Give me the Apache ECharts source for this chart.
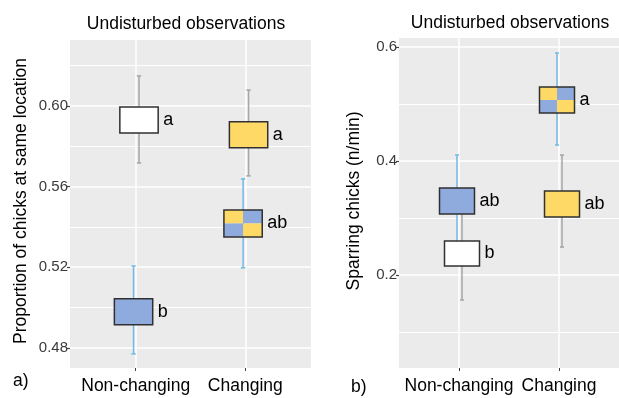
<!DOCTYPE html>
<html>
<head>
<meta charset="utf-8">
<script src="https://cdn.jsdelivr.net/npm/echarts@6/dist/echarts.min.js"></script>
<style>html,body{margin:0;padding:0;background:#fff}#c{width:619px;height:398px}</style>
</head>
<body>
<div id="c"></div>
<script>
// ---- data ----
const categories = ['Non-changing', 'Changing'];
const panelTitle = 'Undisturbed observations';

// Panel a) proportion of chicks at same location
const aCategory  = ['Non-changing', 'Non-changing', 'Changing', 'Changing'];
const aFill      = ['white', 'blue', 'yellow', 'mixed'];
const aBoxLow    = [0.5866, 0.4914, 0.5792, 0.5350];
const aBoxHigh   = [0.5995, 0.5043, 0.5921, 0.5484];
const aWhiskLow  = [0.5717, 0.4770, 0.5653, 0.5197];
const aWhiskHigh = [0.6149, 0.5206, 0.6079, 0.5638];
const aLetters   = ['a', 'b', 'a', 'ab'];
const aTicks     = [0.48, 0.52, 0.56, 0.60];
const aMinor     = [0.50, 0.54, 0.58, 0.62];

// Panel b) sparring chicks (n/min)
const bCategory  = ['Non-changing', 'Non-changing', 'Changing', 'Changing'];
const bFill      = ['white', 'blue', 'yellow', 'mixed'];
const bBoxLow    = [0.2158, 0.3070, 0.3018, 0.4842];
const bBoxHigh   = [0.2596, 0.3526, 0.3474, 0.5298];
const bWhiskLow  = [0.1560, 0.2400, 0.2490, 0.4280];
const bWhiskHigh = [0.3200, 0.4105, 0.4105, 0.5895];
const bLetters   = ['b', 'ab', 'ab', 'a'];
const bTicks     = [0.2, 0.4, 0.6];
const bMinor     = [0.1, 0.3, 0.5];

// ---- styles ----
const FILL = { white: '#FFFFFF', blue: '#8FAADC', yellow: '#FFD966' };
const WHISK = { white: '#A6A6A6', yellow: '#A6A6A6', blue: '#72B9E6', mixed: '#72B9E6' };
const DODGE = { white: 0.03, yellow: 0.03, blue: -0.02, mixed: -0.02 };
const BOXW = 0.35, CAPW = 0.04;
const FONT = '"Liberation Sans", Arial, sans-serif';

function buildData(cat, fill, bl, bh, wl, wh, letters) {
  return cat.map((c, i) => ({
    value: [categories.indexOf(c) + 1, bl[i], bh[i], wl[i], wh[i]],
    fill: fill[i], letter: letters[i]
  }));
}
const aData = buildData(aCategory, aFill, aBoxLow, aBoxHigh, aWhiskLow, aWhiskHigh, aLetters);
const bData = buildData(bCategory, bFill, bBoxLow, bBoxHigh, bWhiskLow, bWhiskHigh, bLetters);

function whiskerRender(data) {
  return function (params, api) {
    const d = data[params.dataIndex];
    const x = api.value(0) + DODGE[d.fill];
    const top = api.coord([x, api.value(4)]);
    const bot = api.coord([x, api.value(3)]);
    const capL = api.coord([x - CAPW / 2, 0])[0];
    const capR = api.coord([x + CAPW / 2, 0])[0];
    const st = { stroke: WHISK[d.fill], lineWidth: 1.5 };
    return { type: 'group', children: [
      { type: 'line', shape: { x1: top[0], y1: top[1], x2: bot[0], y2: bot[1] }, style: st },
      { type: 'line', shape: { x1: capL, y1: top[1], x2: capR, y2: top[1] }, style: st },
      { type: 'line', shape: { x1: capL, y1: bot[1], x2: capR, y2: bot[1] }, style: st }
    ]};
  };
}
function boxRender(data) {
  return function (params, api) {
    const d = data[params.dataIndex];
    const x = api.value(0) + DODGE[d.fill];
    const p1 = api.coord([x - BOXW / 2, api.value(2)]);
    const p2 = api.coord([x + BOXW / 2, api.value(1)]);
    const w = p2[0] - p1[0], h = p2[1] - p1[1];
    const children = [];
    if (d.fill === 'mixed') {
      const hw = w / 2, hh = h / 2;
      children.push({ type: 'rect', shape: { x: p1[0], y: p1[1], width: hw, height: hh }, style: { fill: FILL.yellow } });
      children.push({ type: 'rect', shape: { x: p1[0] + hw, y: p1[1], width: hw, height: hh }, style: { fill: FILL.blue } });
      children.push({ type: 'rect', shape: { x: p1[0], y: p1[1] + hh, width: hw, height: hh }, style: { fill: FILL.blue } });
      children.push({ type: 'rect', shape: { x: p1[0] + hw, y: p1[1] + hh, width: hw, height: hh }, style: { fill: FILL.yellow } });
      children.push({ type: 'rect', shape: { x: p1[0], y: p1[1], width: w, height: h }, style: { fill: null, stroke: '#303030', lineWidth: 1.5 } });
    } else {
      children.push({ type: 'rect', shape: { x: p1[0], y: p1[1], width: w, height: h }, style: { fill: FILL[d.fill], stroke: '#303030', lineWidth: 1.5 } });
    }
    children.push({ type: 'text', x: p2[0] + 5, y: (p1[1] + p2[1]) / 2,
      style: { text: d.letter, fill: '#000', font: '18px ' + FONT, verticalAlign: 'middle', align: 'left' } });
    return { type: 'group', children };
  };
}

function xAxisCfg(gi) {
  return {
    type: 'value', gridIndex: gi, min: 0.4, max: 2.6,
    axisLine: { show: false },
    axisTick: { show: true, customValues: [1, 2], length: 3, lineStyle: { color: '#444', width: 1 } },
    axisLabel: { customValues: [1, 2], formatter: v => categories[Math.round(v) - 1], color: '#000',
      fontSize: 17.5, fontFamily: FONT, margin: 9 },
    splitLine: { show: true, lineStyle: { color: '#FFFFFF', width: 1.5 } }
  };
}
function yAxisCfg(gi, min, max, ticks, dec) {
  return {
    type: 'value', gridIndex: gi, min: min, max: max,
    axisLine: { show: false },
    axisTick: { show: true, customValues: ticks, length: 3, lineStyle: { color: '#444', width: 1.2 } },
    axisLabel: { customValues: ticks, formatter: v => v.toFixed(dec), color: '#3A3A3A',
      fontSize: 15, fontFamily: FONT, margin: 2 },
    splitLine: { show: true, lineStyle: { color: '#FFFFFF', width: 1.5 } }
  };
}
function minorAxisCfg(gi, min, max, minor) {
  return {
    type: 'value', gridIndex: gi, min: min, max: max, position: 'left',
    axisLine: { show: false }, axisLabel: { show: false },
    axisTick: { show: false, customValues: minor },
    splitLine: { show: true, lineStyle: { color: '#FFFFFF', width: 1.2 } }
  };
}

const chart = echarts.init(document.getElementById('c'), null, { renderer: 'canvas' });
chart.setOption({
  animation: false,
  backgroundColor: '#FFFFFF',
  title: [
    { text: panelTitle, left: 181, top: 10, textAlign: 'center',
      textStyle: { fontSize: 17.5, fontWeight: 'normal', color: '#000', fontFamily: FONT } },
    { text: panelTitle, left: 505, top: 9, textAlign: 'center',
      textStyle: { fontSize: 17.5, fontWeight: 'normal', color: '#000', fontFamily: FONT } }
  ],
  grid: [
    { left: 70, top: 40, width: 241, height: 328, show: true, backgroundColor: '#EBEBEB', borderWidth: 0 },
    { left: 399, top: 38, width: 231, height: 330, show: true, backgroundColor: '#EBEBEB', borderWidth: 0 }
  ],
  xAxis: [xAxisCfg(0), xAxisCfg(1)],
  yAxis: [
    yAxisCfg(0, 0.4700, 0.6327, aTicks, 2),
    yAxisCfg(1, 0.0368, 0.6158, bTicks, 1),
    minorAxisCfg(0, 0.4700, 0.6327, aMinor),
    minorAxisCfg(1, 0.0368, 0.6158, bMinor)
  ],
  graphic: [
    { type: 'text', x: 21, y: 201, rotation: Math.PI / 2,
      style: { text: 'Proportion of chicks at same location', font: '17.5px ' + FONT, fill: '#000', align: 'center', verticalAlign: 'middle' } },
    { type: 'text', x: 354, y: 201, rotation: Math.PI / 2,
      style: { text: 'Sparring chicks (n/min)', font: '17.5px ' + FONT, fill: '#000', align: 'center', verticalAlign: 'middle' } },
    { type: 'text', x: 13, y: 381, style: { text: 'a)', font: '17.5px ' + FONT, fill: '#000', verticalAlign: 'middle' } },
    { type: 'text', x: 351, y: 387, style: { text: 'b)', font: '17.5px ' + FONT, fill: '#000', verticalAlign: 'middle' } }
  ],
  series: [
    { type: 'custom', xAxisIndex: 0, yAxisIndex: 0, z: 3, renderItem: whiskerRender(aData), data: aData.map(d => d.value), clip: false },
    { type: 'custom', xAxisIndex: 0, yAxisIndex: 0, z: 4, renderItem: boxRender(aData), data: aData.map(d => d.value), clip: false },
    { type: 'custom', xAxisIndex: 1, yAxisIndex: 1, z: 3, renderItem: whiskerRender(bData), data: bData.map(d => d.value), clip: false },
    { type: 'custom', xAxisIndex: 1, yAxisIndex: 1, z: 4, renderItem: boxRender(bData), data: bData.map(d => d.value), clip: false }
  ]
});
</script>
</body>
</html>
